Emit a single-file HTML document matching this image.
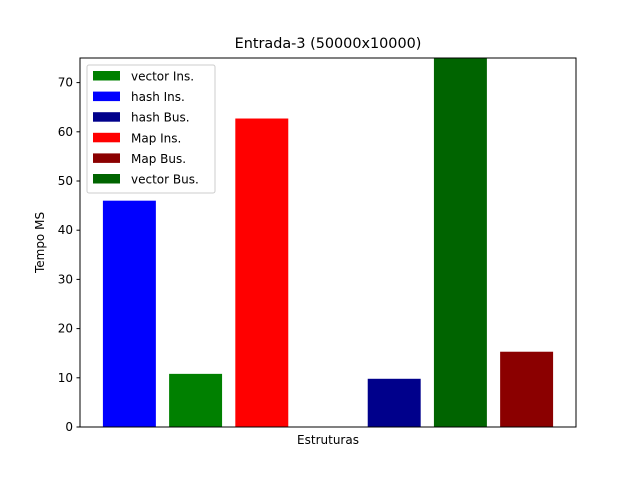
<!DOCTYPE html>
<html><head><meta charset="utf-8"><style>
body{margin:0;background:#fff;}
svg text{font-family:"DejaVu Sans","Liberation Sans",sans-serif;fill:#000;}
</style></head><body>
<svg id="chart" width="640" height="480">
<rect width="640" height="480" fill="#fff"/>
<text x="328" y="48" font-size="14.4" text-anchor="middle">Entrada-3 (50000x10000)</text>
<g id="bars"></g>
<g id="yticks"></g>
<rect x="80" y="58" width="496" height="369" fill="none" stroke="#000" stroke-width="1"/>
<text x="328" y="444" font-size="12" text-anchor="middle">Estruturas</text>
<text transform="translate(44,242.5) rotate(-90)" font-size="12" text-anchor="middle">Tempo MS</text>
<g id="legend"></g>
</svg>
<script>
const categories=["hash Ins.","vector Ins.","Map Ins.","empty","hash Bus.","vector Bus.","Map Bus."];
const values=[46.0,10.8,62.7,0,9.8,80,15.3];
const colors=["#0000ff","#008000","#ff0000","#000000","#00008b","#006400","#8b0000"];
const yTicks=[0,10,20,30,40,50,60,70];
const legendLabels=["vector Ins.","hash Ins.","hash Bus.","Map Ins.","Map Bus.","vector Bus."];
const legendColors=["#008000","#0000ff","#00008b","#ff0000","#8b0000","#006400"];
const NS="http://www.w3.org/2000/svg";
const L=80,R=576,T=58,B=427,yMax=75,xMin=-0.746,xMax=6.746;
const xs=v=>L+(v-xMin)/(xMax-xMin)*(R-L);
const ys=v=>B-Math.min(v,yMax)/yMax*(B-T);
const bars=document.getElementById('bars');
values.forEach((v,i)=>{
 if(v<=0)return;
 const r=document.createElementNS(NS,'rect');
 const x0=xs(i-0.4),x1=xs(i+0.4);
 r.setAttribute('x',x0);r.setAttribute('width',x1-x0);
 r.setAttribute('y',ys(v));r.setAttribute('height',B-ys(v));
 r.setAttribute('fill',colors[i]);
 
 
 bars.appendChild(r);
});
const yt=document.getElementById('yticks');
yTicks.forEach(t=>{
 const y=ys(t);
 const l=document.createElementNS(NS,'line');
 l.setAttribute('x1',L-3.5);l.setAttribute('x2',L);l.setAttribute('y1',y);l.setAttribute('y2',y);
 l.setAttribute('stroke','#000');
 
 
 yt.appendChild(l);
 const tx=document.createElementNS(NS,'text');
 tx.setAttribute('x',L-7);tx.setAttribute('y',y+4);tx.setAttribute('font-size','12');tx.setAttribute('text-anchor','end');
 tx.textContent=t;
 
 
 yt.appendChild(tx);
});
const lg=document.getElementById('legend');
const box=document.createElementNS(NS,'rect');
box.setAttribute('x',87);box.setAttribute('y',65);box.setAttribute('width',128);box.setAttribute('height',128);
box.setAttribute('fill','#fff');box.setAttribute('fill-opacity','0.8');box.setAttribute('stroke','#ccc');box.setAttribute('rx',2);


lg.appendChild(box);
legendLabels.forEach((lab,i)=>{
 const y=71+i*20.6;
 const p=document.createElementNS(NS,'rect');
 p.setAttribute('x',93);p.setAttribute('y',y);p.setAttribute('width',27);p.setAttribute('height',9.5);
 p.setAttribute('fill',legendColors[i]);
 
 
 lg.appendChild(p);
 const t=document.createElementNS(NS,'text');
 t.setAttribute('x',131);t.setAttribute('y',y+9.5);t.setAttribute('font-size','12');
 t.textContent=lab;
 
 
 lg.appendChild(t);
});
</script>
</body></html>
